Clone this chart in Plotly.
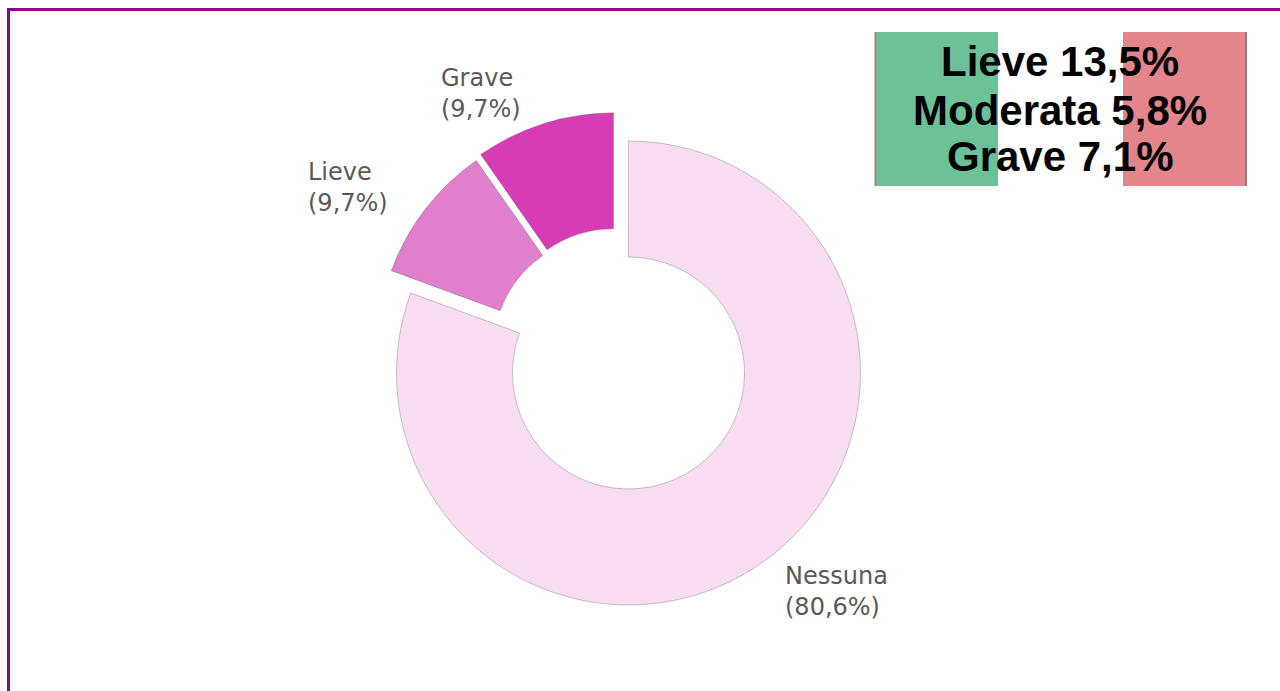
import plotly.graph_objects as go

# Donut data: degree of severity
categories = ["Nessuna", "Lieve", "Grave"]
values = [80.6, 9.7, 9.7]
value_labels = ["80,6%", "9,7%", "9,7%"]
slice_colors = ["#F7DCF2", "#E07FCB", "#D63CB3"]
slice_pulls = [0.084, 0.045, 0.055]

# Summary box lines
summary_lines = ["Lieve 13,5%", "Moderata 5,8%", "Grave 7,1%"]

W, H = 1280, 691


def px_x(v):
    return v / W


def px_y(v):
    return 1 - v / H


fig = go.Figure()

fig.add_trace(go.Pie(
    labels=categories,
    values=values,
    textinfo="none",
    hole=0.5,
    sort=False,
    direction="clockwise",
    rotation=0,
    pull=slice_pulls,
    marker=dict(colors=slice_colors, line=dict(color="rgba(110,110,110,0.55)", width=0.7)),
    domain=dict(x=[0.2858, 0.6788], y=[0.1194, 0.8473]),
    showlegend=False,
    hoverinfo="label+percent",
))

shapes = [
    # outer purple frame
    dict(type="rect", xref="paper", yref="paper",
         x0=px_x(8.5), x1=1.05, y0=-0.05, y1=px_y(9.5),
         line=dict(color="#870A8C", width=3), fillcolor="rgba(0,0,0,0)", layer="below"),
    # tricolour summary box
    dict(type="rect", xref="paper", yref="paper",
         x0=px_x(875), x1=px_x(998), y0=px_y(186), y1=px_y(32),
         line=dict(width=0), fillcolor="#6CC296", layer="below"),
    dict(type="rect", xref="paper", yref="paper",
         x0=px_x(998), x1=px_x(1123), y0=px_y(186), y1=px_y(32),
         line=dict(width=0), fillcolor="#FFFFFF", layer="below"),
    dict(type="rect", xref="paper", yref="paper",
         x0=px_x(1123), x1=px_x(1247), y0=px_y(186), y1=px_y(32),
         line=dict(width=0), fillcolor="#E4858B", layer="below"),
    dict(type="line", xref="paper", yref="paper",
         x0=px_x(875.5), x1=px_x(875.5), y0=px_y(186), y1=px_y(32),
         line=dict(color="#8C8C8C", width=2), layer="below"),
    dict(type="line", xref="paper", yref="paper",
         x0=px_x(1246), x1=px_x(1246), y0=px_y(186), y1=px_y(32),
         line=dict(color="#8C7F80", width=2), layer="below"),
]

annotations = []

# Slice labels, left-aligned two-line blocks beside each slice
label_anchor = {"Nessuna": (783, 591), "Lieve": (306, 187), "Grave": (439, 93)}
for cat, vl in zip(categories, value_labels):
    ax, ay = label_anchor[cat]
    annotations.append(dict(
        text=f"{cat}<br>({vl})", xref="paper", yref="paper",
        x=px_x(ax), y=px_y(ay), xanchor="left", yanchor="middle", align="left",
        showarrow=False,
        font=dict(family="DejaVu Sans", size=24, color="#595959"),
    ))

line_centers = [62, 110, 157]
for txt, yc in zip(summary_lines, line_centers):
    annotations.append(dict(
        text=txt, xref="paper", yref="paper",
        x=px_x(1060), y=px_y(yc), xanchor="center", yanchor="middle",
        showarrow=False,
        font=dict(family="Liberation Sans", size=42, color="#000000", weight="bold"),
    ))

fig.update_layout(
    width=W, height=H,
    margin=dict(l=0, r=0, t=0, b=0),
    paper_bgcolor="white",
    plot_bgcolor="white",
    shapes=shapes,
    annotations=annotations,
)

fig.write_html("out.html")
